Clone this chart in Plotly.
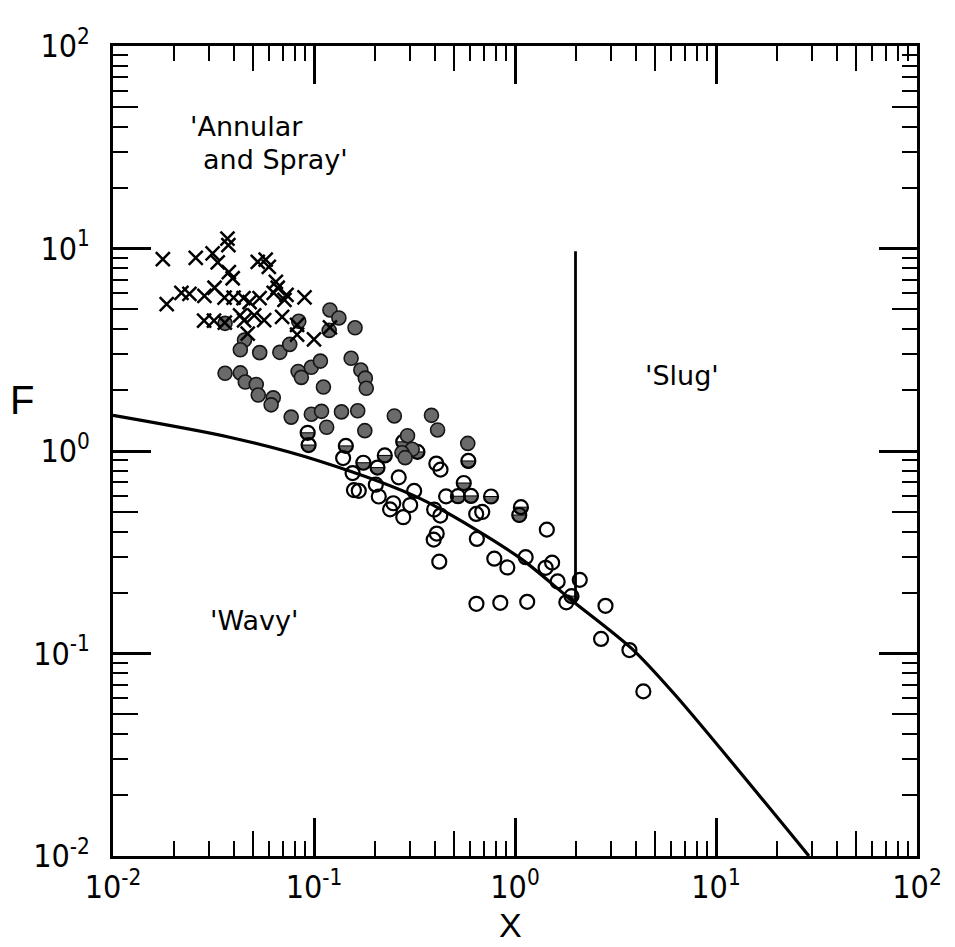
import numpy as np
import plotly.graph_objects as go

# ---- flow-regime observations (X = Lockhart-Martinelli parameter, F = modified Froude number) ----
# 'Annular and Spray' observations (crosses)
cross_x = [0.0177, 0.0258, 0.0313, 0.0332, 0.0371, 0.0375, 0.0377, 0.0394, 0.0525, 0.0575,
           0.0596, 0.0646, 0.066, 0.0185, 0.0219, 0.024, 0.0285, 0.032, 0.0359, 0.0398,
           0.0446, 0.0478, 0.0536, 0.063, 0.0713, 0.073, 0.0897, 0.0284, 0.0318, 0.036,
           0.0429, 0.0449, 0.0504, 0.0565, 0.0694, 0.0824, 0.0824, 0.100, 0.120, 0.0468]
cross_y = [8.85, 9.0, 9.45, 8.53, 11.2, 10.4, 7.64, 7.13, 8.59, 8.8,
           8.12, 6.85, 6.4, 5.31, 6.04, 5.97, 5.84, 6.4, 5.72, 5.72,
           5.69, 5.43, 5.69, 6.04, 5.57, 5.9, 5.73, 4.4, 4.4, 4.3,
           4.68, 4.42, 4.68, 4.43, 4.6, 4.2, 3.76, 3.56, 4.08, 3.8]

# filled circles
filled_x = [0.12, 0.133, 0.160, 0.0361, 0.0451, 0.043, 0.0537, 0.0676, 0.0757, 0.0361,
            0.043, 0.0455, 0.0516, 0.0528, 0.0627, 0.0612, 0.0834, 0.0865, 0.097, 0.1076,
            0.1114, 0.153, 0.171, 0.18, 0.182, 0.077, 0.097, 0.109, 0.1156, 0.137,
            0.165, 0.179, 0.251, 0.384, 0.412, 0.292, 0.308, 0.274, 0.582, 0.284,
            0.084, 0.119]
filled_y = [4.97, 4.54, 4.06, 4.27, 3.53, 3.16, 3.06, 3.07, 3.36, 2.42,
            2.43, 2.19, 2.13, 1.89, 1.83, 1.69, 2.47, 2.31, 2.59, 2.78,
            2.07, 2.87, 2.51, 2.29, 2.04, 1.47, 1.52, 1.57, 1.31, 1.56,
            1.58, 1.26, 1.49, 1.50, 1.27, 1.19, 1.02, 0.98, 1.09, 0.927,
            4.37, 3.94]

# half-filled circles
half_x = [0.093, 0.094, 0.144, 0.176, 0.207, 0.225, 0.278, 0.327, 0.586, 0.556,
          0.52, 0.604, 0.76, 1.07, 1.05, 1.91]
half_y = [1.23, 1.07, 1.06, 0.875, 0.828, 0.951, 1.11, 0.99, 0.893, 0.695,
          0.598, 0.60, 0.596, 0.528, 0.483, 0.192]

# open circles
open_x = [0.1396, 0.1556, 0.158, 0.167, 0.203, 0.21, 0.239, 0.248, 0.278, 0.301,
          0.315, 0.264, 0.406, 0.426, 0.396, 0.425, 0.454, 0.408, 0.394, 0.42,
          0.641, 0.687, 0.646, 0.789, 0.916, 0.643, 0.845, 1.15, 1.13, 1.44,
          1.42, 1.53, 1.63, 2.10, 1.80, 2.82, 2.68, 3.71, 4.35]
open_y = [0.923, 0.778, 0.641, 0.636, 0.682, 0.596, 0.515, 0.552, 0.471, 0.541,
          0.635, 0.741, 0.867, 0.809, 0.514, 0.48, 0.597, 0.391, 0.365, 0.284,
          0.489, 0.5, 0.368, 0.294, 0.266, 0.176, 0.178, 0.18, 0.299, 0.409,
          0.265, 0.281, 0.227, 0.231, 0.179, 0.172, 0.118, 0.104, 0.065]

# transition boundaries
curve_x = [0.01, 0.038, 0.107, 0.34, 1.04, 1.89, 3.8, 6.3, 29.0]
curve_y = [1.50, 1.17, 0.89, 0.58, 0.30, 0.185, 0.106, 0.062, 0.010]
slug_x = [2.0, 2.0]
slug_y = [0.178, 9.7]

# axis decorations
decades = [0.01, 0.1, 1, 10, 100]
decade_text = ['10<sup>-2</sup>', '10<sup>-1</sup>', '10<sup>0</sup>', '10<sup>1</sup>', '10<sup>2</sup>']
minor_vals = [m * d for d in decades[:-1] for m in range(2, 10)]
mid_vals = [5 * d for d in decades[:-1]]

GRAY = '#6a6a6a'
TICK_FONT = dict(family='Liberation Sans Narrow, DejaVu Sans Condensed, Liberation Sans', size=32, color='black')
LABEL_FONT = dict(family='DejaVu Sans', size=27, color='black')
TITLE_FAMILY = 'Liberation Sans Narrow, Liberation Sans'
MARKER_SIZE = 14

fig = go.Figure()
fig.add_trace(go.Scatter(x=curve_x, y=curve_y, mode='lines',
                         line=dict(color='black', width=3.2, shape='spline', smoothing=0.8)))
fig.add_trace(go.Scatter(x=slug_x, y=slug_y, mode='lines', xaxis='x2', yaxis='y2',
                         line=dict(color='black', width=2.8)))
fig.add_trace(go.Scatter(x=open_x, y=open_y, mode='markers',
                         marker=dict(symbol='circle-open', size=MARKER_SIZE, color='black', line=dict(width=2.2))))
fig.add_trace(go.Scatter(x=half_x, y=half_y, mode='markers',
                         marker=dict(symbol='circle-open', size=MARKER_SIZE, color='black', line=dict(width=2.2))))
fig.add_trace(go.Scatter(x=filled_x, y=filled_y, mode='markers',
                         marker=dict(symbol='circle', size=MARKER_SIZE, color=GRAY, line=dict(color='#151515', width=1.6))))
fig.add_trace(go.Scatter(x=cross_x, y=cross_y, mode='markers',
                         marker=dict(symbol='x-thin', size=14, line=dict(color='black', width=2.5))))

# lower-half fill for the half-filled circles
theta = np.linspace(0, np.pi, 15)
r = MARKER_SIZE / 2
half_path = 'M ' + ' L '.join(f'{r*np.cos(t):.2f},{-r*np.sin(t):.2f}' for t in theta) + ' Z'
for hx, hy in zip(half_x, half_y):
    fig.add_shape(type='path', path=half_path, xref='x', yref='y',
                  xsizemode='pixel', ysizemode='pixel', xanchor=hx, yanchor=hy,
                  fillcolor=GRAY, line=dict(color='black', width=1), layer='below')

main_axis = dict(type='log', range=[-2, 2], showgrid=False, zeroline=False,
                 showline=True, linecolor='black', linewidth=2.5, mirror='ticks',
                 ticks='inside', ticklen=38, tickwidth=2.5, tickcolor='black',
                 tickmode='array', tickvals=decades, ticktext=decade_text,
                 tickfont=TICK_FONT,
                 minor=dict(tickmode='array', tickvals=minor_vals, ticks='inside',
                            ticklen=15, tickwidth=2, tickcolor='black', showgrid=False))
mid_axis = dict(type='log', range=[-2, 2], showgrid=False, zeroline=False, showline=False,
                mirror='ticks', ticks='inside', ticklen=25, tickwidth=2, tickcolor='black',
                tickmode='array', tickvals=mid_vals, showticklabels=False)

fig.update_layout(
    width=955, height=947,
    margin=dict(l=113, r=38, t=46, b=91),
    paper_bgcolor='white', plot_bgcolor='white',
    showlegend=False,
    xaxis=dict(**main_axis, ticklabelstandoff=1),
    yaxis=dict(**main_axis, ticklabelstandoff=14),
    xaxis2=dict(**mid_axis, overlaying='x', side='top'),
    yaxis2=dict(**mid_axis, overlaying='y', side='right'),
)

def label(text, x, y, font, xanchor='left', yanchor='middle'):
    fig.add_annotation(text=text, xref='paper', yref='paper', x=x, y=y,
                       xanchor=xanchor, yanchor=yanchor, showarrow=False, font=font)

label("'Annular", 0.0933, 0.901, LABEL_FONT)
label("and Spray'", 0.1095, 0.860, LABEL_FONT)
label("'Wavy'", 0.118, 0.291, LABEL_FONT)
label("'Slug'", 0.659, 0.593, LABEL_FONT)
label('F', -0.113, 0.563, dict(family=TITLE_FAMILY, size=40, color='black'), 'center')
label('X', 0.494, -0.1105, dict(family=TITLE_FAMILY, size=34, color='black'), 'center', 'bottom')

fig.write_html('out.html')
